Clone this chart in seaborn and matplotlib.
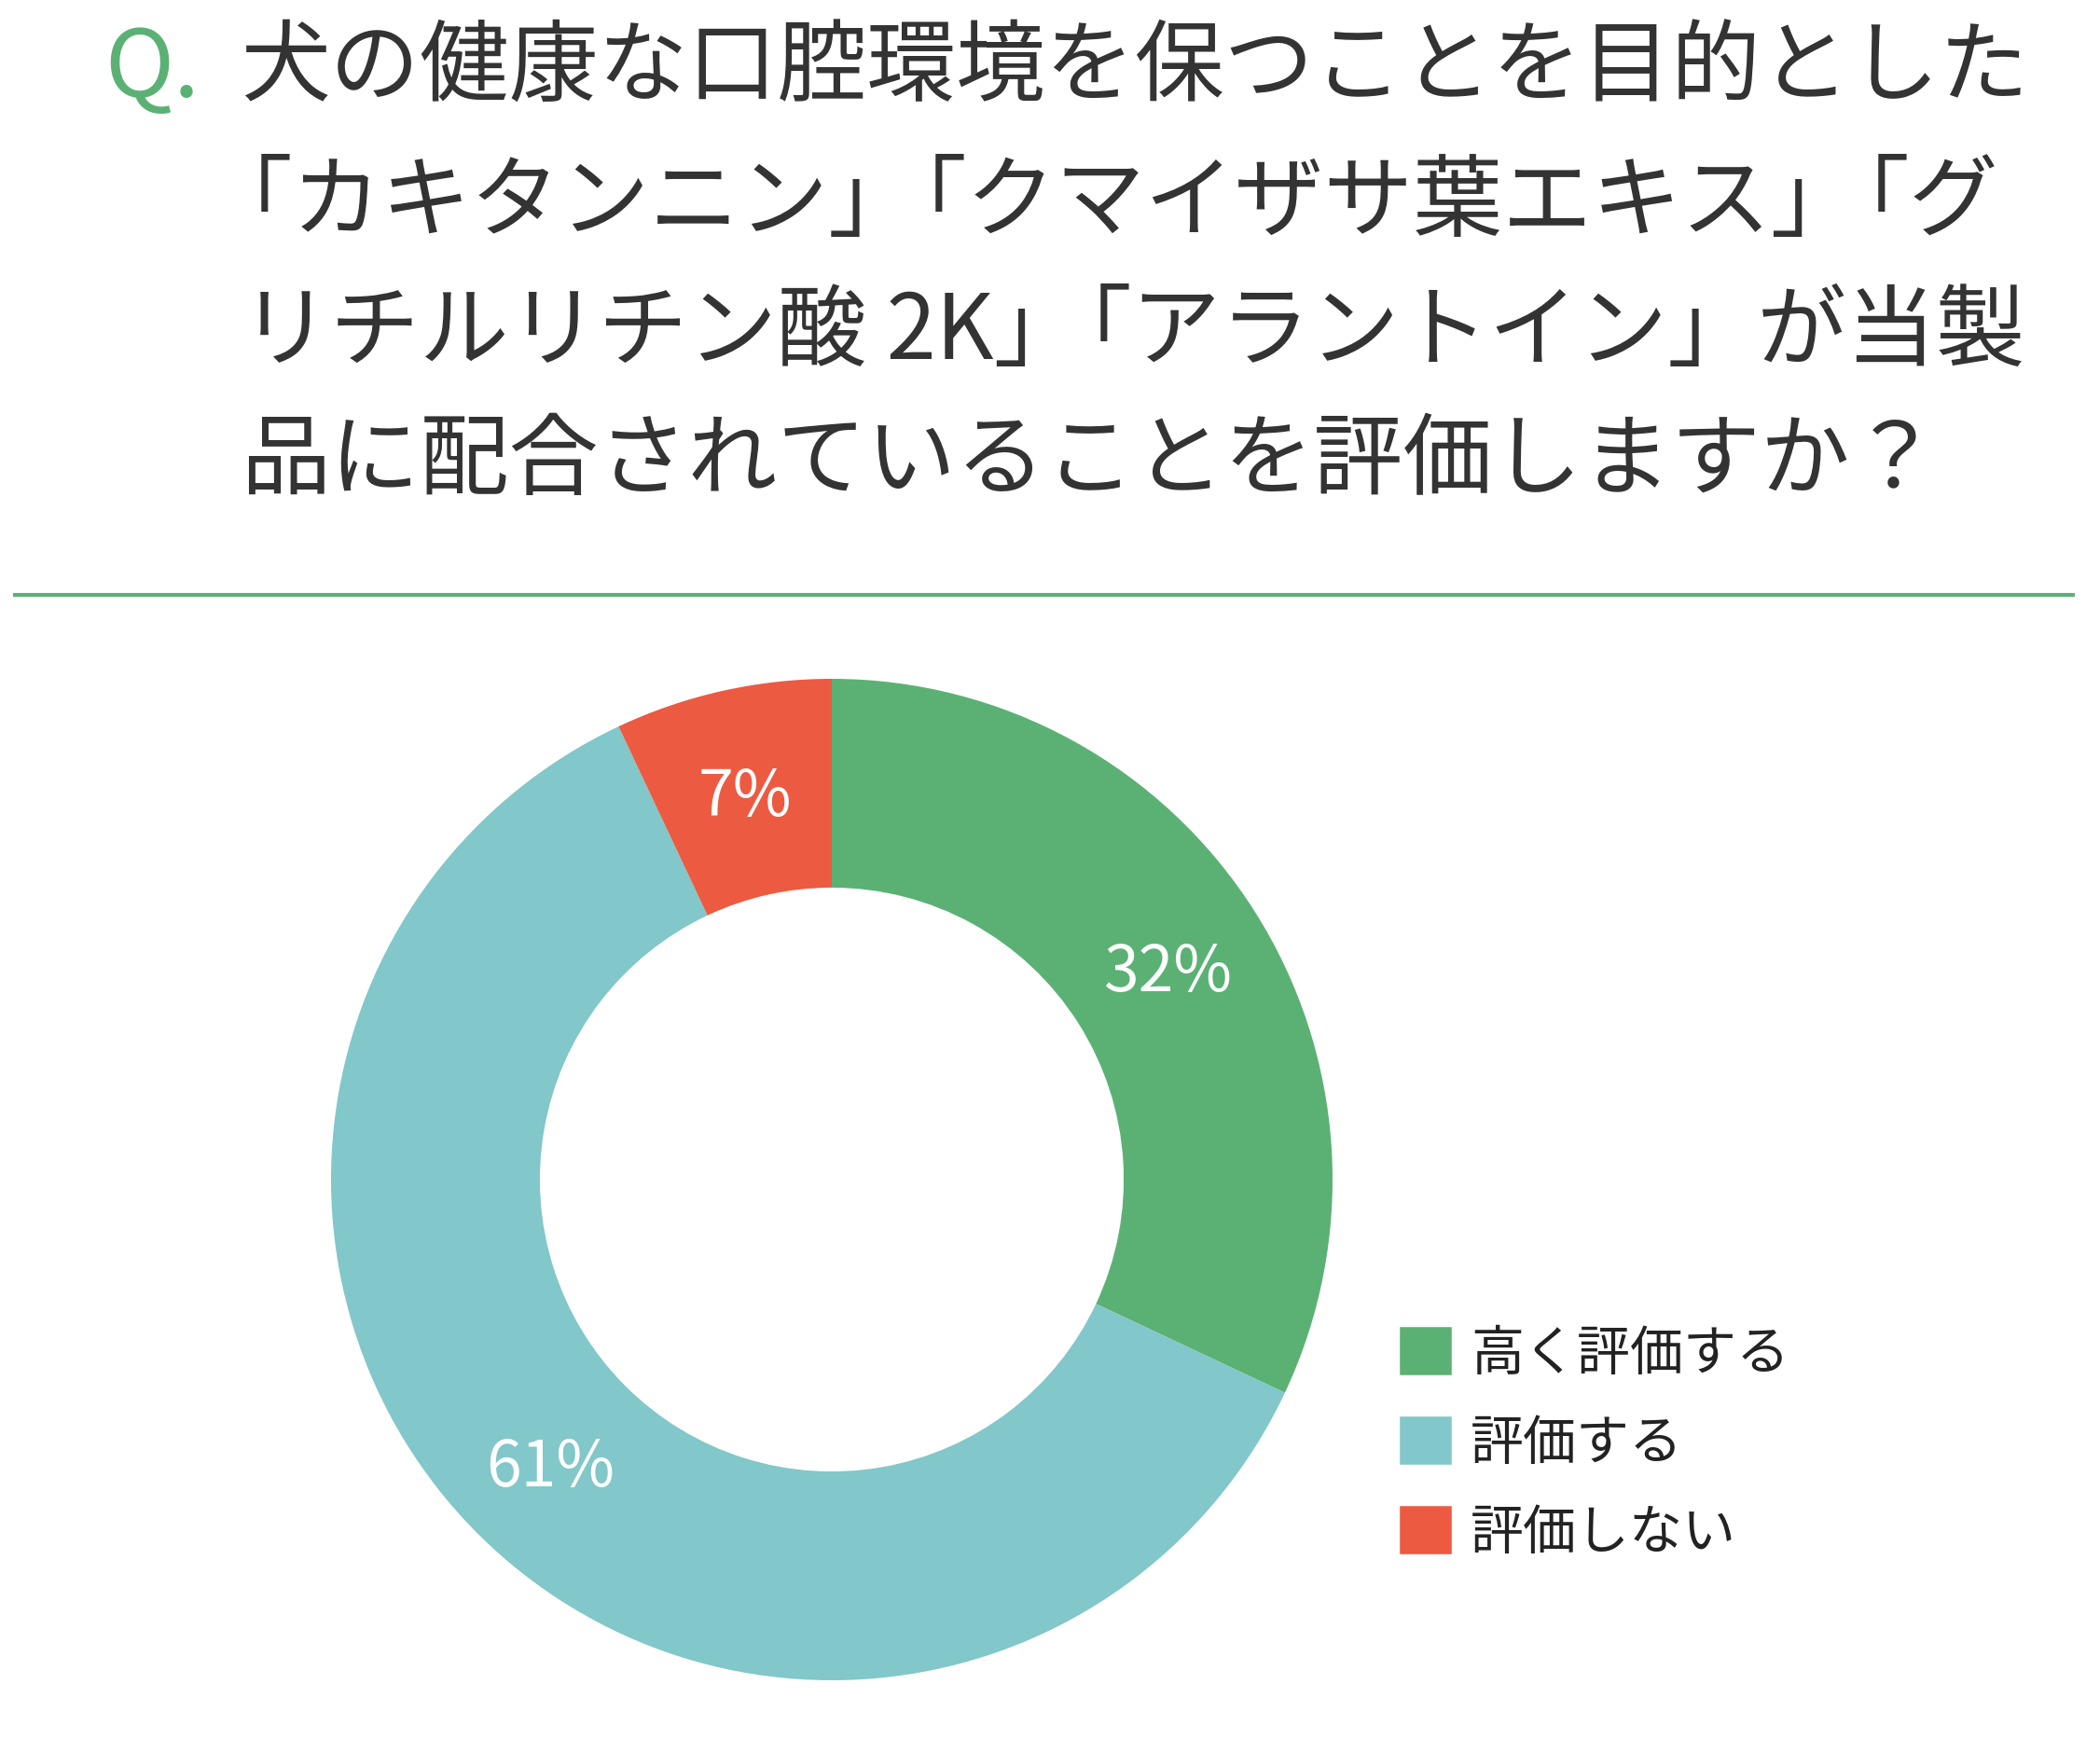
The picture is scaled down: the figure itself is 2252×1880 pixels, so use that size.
import re
import numpy as np
import pandas as pd
import seaborn as sns
import matplotlib.pyplot as plt
from matplotlib.patches import Patch
from matplotlib.lines import Line2D

# Survey data ---------------------------------------------------------------
categories = ["高く評価する", "評価する", "評価しない"]
shares = [32, 61, 7]
colors = ["#5BB174", "#82C7C9", "#EC5A41"]

q_mark = "Q."
title_lines = [
    "犬の健康な口腔環境を保つことを目的とした",
    "「カキタンニン」「クマイザサ葉エキス」「グ",
    "リチルリチン酸 2K」「アラントイン」が当製",
    "品に配合されていることを評価しますか？",
]

# Figure setup --------------------------------------------------------------
W, H = 2252, 1880
sns.set_theme(style="white")
plt.rcParams["font.family"] = ["Noto Sans CJK JP", "DejaVu Sans"]

green = colors[0]
text_dark = "#333333"
title_size = 69
px2pt = 0.72  # dpi 100

fig = plt.figure(figsize=(W / 100, H / 100), dpi=100)
fig.patch.set_facecolor("white")

# full-figure overlay axes in pixel units (origin top-left) for the header
tax = fig.add_axes([0, 0, 1, 1])
tax.set_xlim(0, W)
tax.set_ylim(H, 0)
tax.axis("off")

# Title (question) ----------------------------------------------------------
tax.text(112, 75, q_mark, color=green, fontsize=72, va="center", ha="left")

line_y = [74, 218, 357, 495]
lead_kern = 40   # opening bracket at line start is set half-width
pair_kern = 44   # "」「" pairs are set tighter
for txt, y in zip(title_lines, line_y):
    chunks = re.split(r"(?<=」)(?=「)", txt)
    x0 = 258 - (lead_kern if txt.startswith("「") else 0)
    prev = tax.text(x0, y, chunks[0], color=text_dark, fontsize=title_size,
                    va="center", ha="left")
    for ch in chunks[1:]:
        prev = tax.annotate(ch, xy=(1, 0), xycoords=prev,
                            xytext=(-pair_kern * px2pt, 0),
                            textcoords="offset points",
                            color=text_dark, fontsize=title_size,
                            va="bottom", ha="left")

# divider
tax.plot([14, 2225], [638, 638], color=green, lw=3, solid_capstyle="butt")

# Donut ---------------------------------------------------------------------
cx, cy, r = 892, 1265, 537
ax = fig.add_axes([(cx - r) / W, (H - cy - r) / H, 2 * r / W, 2 * r / H])
wedges, texts, autotexts = ax.pie(
    shares, colors=colors, startangle=90, counterclock=False,
    wedgeprops=dict(width=0.417, edgecolor="none"),
    autopct=lambda p: f"{p:.0f}%", pctdistance=0.795,
    textprops=dict(color="white", fontsize=49))
for t in autotexts:
    t.set_va("center_baseline")
ax.set_xlim(-1, 1)
ax.set_ylim(-1, 1)
ax.set_aspect("equal")
ax.axis("off")

# Legend --------------------------------------------------------------------
handles = [Patch(facecolor=c, edgecolor=c, linewidth=4, joinstyle="round")
           for c in colors]
fig.legend(handles, categories, loc="upper left",
           bbox_to_anchor=(1504 / W, 1 - 1423 / H),
           frameon=False, fontsize=41, borderpad=0, borderaxespad=0,
           handlelength=0.88, handleheight=0.88, handletextpad=0.4,
           labelspacing=0.66, labelcolor="#222222")

fig.savefig("out.png", dpi=100, facecolor="white")
